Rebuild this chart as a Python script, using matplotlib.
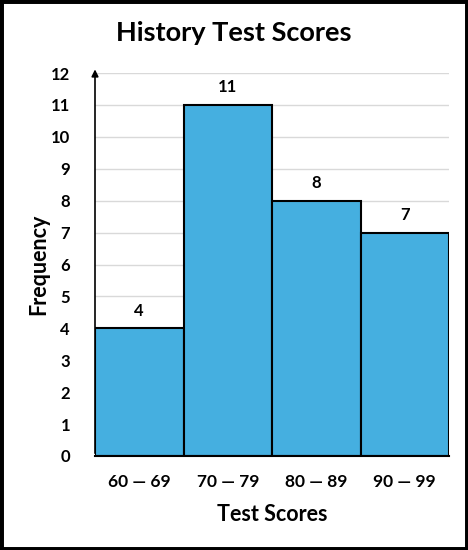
import matplotlib
matplotlib.use("Agg")
import matplotlib.pyplot as plt
from matplotlib.patches import Rectangle

categories = ["60 — 69", "70 — 79", "80 — 89", "90 — 99"]
frequencies = [4, 11, 8, 7]
yticks = list(range(0, 13))

plt.rcParams['font.family'] = ['Lato', 'DejaVu Sans']

fig = plt.figure(figsize=(4.68, 5.5), dpi=100)
ax = fig.add_axes([95/468, 1-456/550, (449-95)/468, (456-73)/550])

x = list(range(len(categories)))
ax.bar(x, frequencies, width=1.0, color="#45AFE0", edgecolor="black", linewidth=1.5, zorder=3)
for xi, v in zip(x, frequencies):
    ax.text(xi, v + 0.3, str(v), ha="center", va="bottom", fontsize=12, fontweight="bold")

ax.set_xlim(-0.5, len(categories) - 0.5)
ax.set_ylim(0, 12)
ax.set_yticks(yticks)
ax.set_yticklabels([str(t) for t in yticks], fontsize=12, fontweight="bold")
ax.set_xticks(x)
ax.set_xticklabels(categories, fontsize=12.5, fontweight="bold")
ax.tick_params(axis="both", length=0)
ax.tick_params(axis="y", pad=18)
ax.tick_params(axis="x", pad=13)
ax.yaxis.grid(True, color="#d9d9d9", linewidth=1, zorder=0)
for s in ["top", "right", "left"]:
    ax.spines[s].set_visible(False)
ax.spines["bottom"].set_linewidth(1.5)
ax.spines["bottom"].set_zorder(4)

ax.annotate("", xy=(-0.5, 12.2), xytext=(-0.5, 0), xycoords="data",
            arrowprops=dict(arrowstyle="-|>", color="black", lw=1.2, mutation_scale=10),
            annotation_clip=False, zorder=5)

ax.set_xlabel("Test Scores", fontsize=15.5, fontweight="bold", labelpad=10)
ax.set_ylabel("Frequency", fontsize=15.5, fontweight="bold", labelpad=1)
fig.text(0.5, 1-33/550, "History Test Scores", ha="center", va="center", fontsize=19.5, fontweight="bold")

fig.add_artist(Rectangle((0, 0), 1, 1, transform=fig.transFigure, fill=False,
                         edgecolor="black", linewidth=5))

fig.savefig("out.png", dpi=100)
